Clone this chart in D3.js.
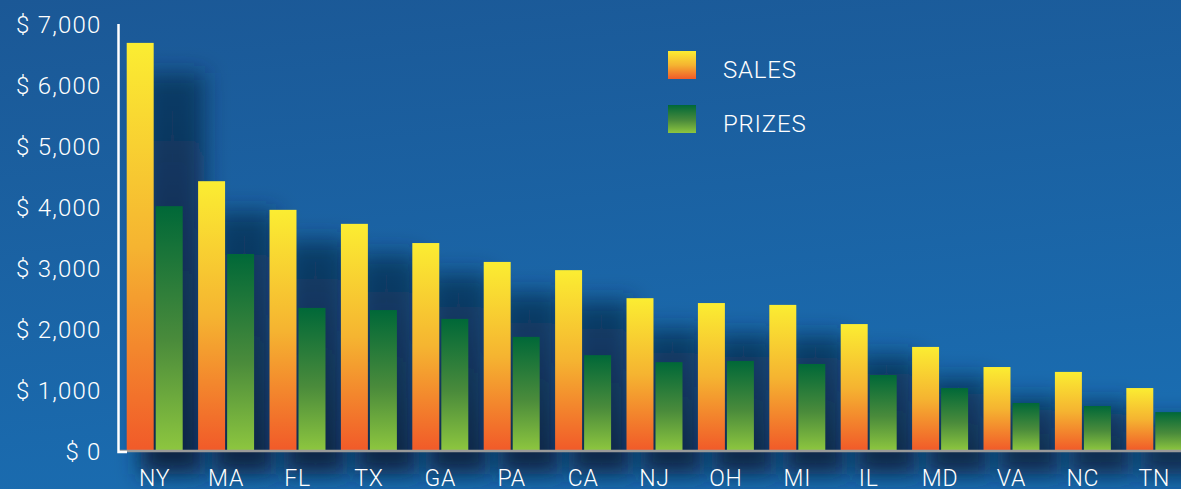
<!DOCTYPE html>
<html>
<head>
<meta charset="utf-8">
<script src="https://cdn.jsdelivr.net/npm/d3@7"></script>
<style>
  body { margin: 0; background: #1b5e9f; }
  svg { display: block; }
</style>
</head>
<body>
<div class="chart"></div>
<script>
const states = ['NY', 'MA', 'FL', 'TX', 'GA', 'PA', 'CA', 'NJ', 'OH', 'MI', 'IL', 'MD', 'VA', 'NC', 'TN'];
const sales = [6690, 4420, 3950, 3720, 3405, 3095, 2960, 2500, 2420, 2390, 2075, 1700, 1370, 1290, 1025];
const prizes = [4010, 3225, 2340, 2305, 2160, 1865, 1565, 1450, 1470, 1420, 1240, 1025, 780, 730, 630];
const yTicks = [0, 1000, 2000, 3000, 4000, 5000, 6000, 7000];
const seriesNames = ['SALES', 'PRIZES'];

const chartWidth = 1181;
const chartHeight = 489;
const font = 'Roboto, "Open Sans", sans-serif';

const rows = states.map((s, i) => ({ state: s, sales: sales[i], prizes: prizes[i] }));

const svg = d3.select('.chart')
  .append('svg')
  .attr('width', chartWidth)
  .attr('height', chartHeight);

const defs = svg.append('defs');

const bg = defs.append('linearGradient')
  .attr('id', 'bg')
  .attr('x1', 0).attr('y1', 0).attr('x2', 0.25).attr('y2', 1);
bg.append('stop').attr('offset', '0%').attr('stop-color', '#1b5896');
bg.append('stop').attr('offset', '100%').attr('stop-color', '#1a6cb0');

const salesGrad = defs.append('linearGradient')
  .attr('id', 'salesGrad')
  .attr('x1', 0).attr('y1', 0).attr('x2', 0).attr('y2', 1);
salesGrad.append('stop').attr('offset', '0%').attr('stop-color', '#fbed32');
salesGrad.append('stop').attr('offset', '50%').attr('stop-color', '#f5b431');
salesGrad.append('stop').attr('offset', '100%').attr('stop-color', '#f15a29');

const prizesGrad = defs.append('linearGradient')
  .attr('id', 'prizesGrad')
  .attr('x1', 0).attr('y1', 0).attr('x2', 0).attr('y2', 1);
prizesGrad.append('stop').attr('offset', '0%').attr('stop-color', '#006838');
prizesGrad.append('stop').attr('offset', '55%').attr('stop-color', '#4a8b3b');
prizesGrad.append('stop').attr('offset', '100%').attr('stop-color', '#8dc63f');

const shadowGrad = defs.append('linearGradient')
  .attr('id', 'shadowGrad')
  .attr('x1', 0).attr('y1', 0).attr('x2', 0).attr('y2', 1);
shadowGrad.append('stop').attr('offset', '0%').attr('stop-color', '#0a2442').attr('stop-opacity', 0.6);
shadowGrad.append('stop').attr('offset', '100%').attr('stop-color', '#0a2442').attr('stop-opacity', 1);

defs.append('filter')
  .attr('id', 'blur')
  .attr('x', '-50%').attr('y', '-50%').attr('width', '200%').attr('height', '200%')
  .append('feGaussianBlur')
  .attr('stdDeviation', 11);

svg.append('rect')
  .attr('width', chartWidth)
  .attr('height', chartHeight)
  .attr('fill', 'url(#bg)');

const xScale = d3.scaleBand()
  .domain(states)
  .range([119, 1190])
  .paddingInner(0.216)
  .paddingOuter(0.108);

const xSub = d3.scaleBand()
  .domain(['sales', 'prizes'])
  .range([0, xScale.bandwidth()])
  .paddingInner(0.07);

const yScale = d3.scaleLinear()
  .domain([0, 7000])
  .range([450.5, 24]);

// soft shadows behind each pair of bars
svg.append('g')
  .selectAll('rect')
  .data(rows)
  .enter()
  .append('rect')
  .attr('x', d => xScale(d.state) + 14)
  .attr('y', d => yScale(d.sales) + 30)
  .attr('width', xScale.bandwidth() + 8)
  .attr('height', d => yScale(0) - yScale(d.sales) - 6)
  .attr('fill', 'url(#shadowGrad)')
  .attr('filter', 'url(#blur)');

const bars = svg.append('g')
  .selectAll('g')
  .data(rows)
  .enter()
  .append('g')
  .attr('transform', d => `translate(${xScale(d.state)}, 0)`);

bars.append('rect')
  .attr('x', xSub('sales'))
  .attr('y', d => yScale(d.sales))
  .attr('width', xSub.bandwidth())
  .attr('height', d => yScale(0) - yScale(d.sales))
  .attr('fill', 'url(#salesGrad)');

bars.append('rect')
  .attr('x', xSub('prizes'))
  .attr('y', d => yScale(d.prizes))
  .attr('width', xSub.bandwidth())
  .attr('height', d => yScale(0) - yScale(d.prizes))
  .attr('fill', 'url(#prizesGrad)');

// baseline
svg.append('line')
  .attr('x1', 119)
  .attr('x2', chartWidth)
  .attr('y1', yScale(0) + 0.5)
  .attr('y2', yScale(0) + 0.5)
  .attr('stroke', '#9a9a9a')
  .attr('stroke-width', 2.5);

// y axis
const yAxis = d3.axisLeft(yScale)
  .tickValues(yTicks)
  .tickSize(0)
  .tickPadding(17)
  .tickFormat(d => '$ ' + d3.format(',')(d));

const yAxisG = svg.append('g')
  .attr('transform', 'translate(118.5, 0)')
  .call(yAxis);
yAxisG.select('.domain').remove();
yAxisG.selectAll('text')
  .attr('fill', '#ffffff')
  .attr('font-family', font)
  .attr('font-weight', 300)
  .attr('font-size', '24px')
  .attr('letter-spacing', '1.2px')
  .attr('dy', '0.36em');

svg.append('path')
  .attr('d', `M118.5,${yScale(7000)}V${yScale(0) + 1.5}H127`)
  .attr('fill', 'none')
  .attr('stroke', '#ffffff')
  .attr('stroke-width', 2.5);

// x axis
const xAxis = d3.axisBottom(xScale).tickSize(0).tickPadding(19);
const xAxisG = svg.append('g')
  .attr('transform', `translate(0, ${yScale(0)})`)
  .call(xAxis);
xAxisG.select('.domain').remove();
xAxisG.selectAll('text')
  .attr('fill', '#ffffff')
  .attr('font-family', font)
  .attr('font-weight', 300)
  .attr('font-size', '23px')
  .attr('letter-spacing', '0.8px');

// legend
const legend = svg.append('g')
  .selectAll('g')
  .data(seriesNames)
  .enter()
  .append('g')
  .attr('transform', (d, i) => `translate(668, ${51 + i * 54})`);

legend.append('rect')
  .attr('width', 28)
  .attr('height', 28)
  .attr('fill', (d, i) => i === 0 ? 'url(#salesGrad)' : 'url(#prizesGrad)');

legend.append('text')
  .attr('x', 55)
  .attr('y', 18)
  .attr('dy', '0.36em')
  .attr('fill', '#ffffff')
  .attr('font-family', font)
  .attr('font-weight', 300)
  .attr('font-size', '24px')
  .attr('letter-spacing', '0.8px')
  .text(d => d);
</script>
</body>
</html>
